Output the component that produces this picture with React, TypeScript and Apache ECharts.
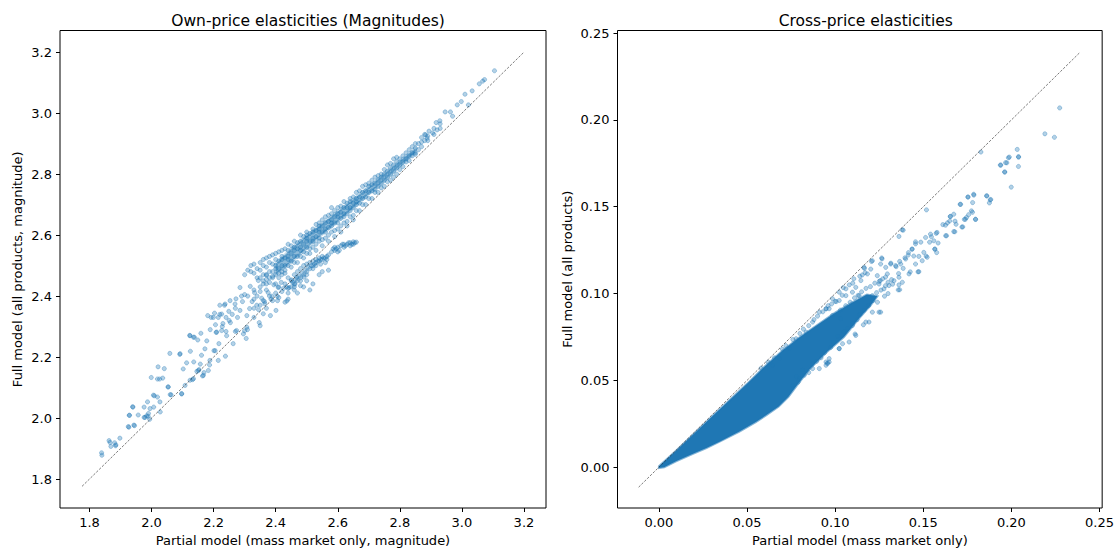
import React, { useEffect, useRef } from "react";
import * as echarts from "echarts";

// ---------- Data ----------
const ownTicks = [1.8, 2.0, 2.2, 2.4, 2.6, 2.8, 3.0, 3.2];
const crossTicks = [0.0, 0.05, 0.1, 0.15, 0.2, 0.25];

const ownDiag: number[][] = [[1.776, 1.776], [3.2, 3.2]];
const crossDiag: number[][] = [[-0.0115, -0.0115], [0.239, 0.239]];

// own-price: scattered points (lower-left part)
const ownSparse: number[][] = [
  [1.839, 1.886], [1.840, 1.878], [1.863, 1.926], [1.869, 1.907], [1.881, 1.919], [1.884, 1.909], [1.898, 1.934],
  [1.866, 1.920], [1.885, 1.912], [1.925, 1.972], [1.943, 1.977], [1.928, 2.009], [1.939, 2.037],
  [1.927, 1.970], [1.929, 2.009], [1.940, 2.036], [1.945, 1.975], [1.957, 2.010], [1.976, 2.036], [1.979, 2.002],
  [1.987, 2.053], [1.989, 2.006], [1.994, 1.996], [1.999, 2.133], [2.007, 2.036], [2.009, 2.073], [2.019, 2.128],
  [2.021, 2.168], [2.026, 2.128], [2.028, 2.020], [2.036, 2.131], [2.041, 2.162], [2.053, 2.102], [2.059, 2.212],
  [2.063, 2.076], [2.091, 2.209], [2.097, 2.079], [2.102, 2.161], [2.113, 2.181], [2.123, 2.271], [2.125, 2.219],
  [2.132, 2.126], [2.136, 2.184], [2.138, 2.265], [2.146, 2.153], [2.153, 2.159], [2.157, 2.177], [2.161, 2.206],
  [2.164, 2.138], [2.169, 2.149], [2.178, 2.253], [2.187, 2.174], [2.189, 2.290], [2.192, 2.330], [2.201, 2.221],
  [2.203, 2.344], [2.206, 2.306], [2.208, 2.281], [2.217, 2.244], [2.220, 2.370], [2.228, 2.300], [2.235, 2.370],
  [2.238, 2.203], [2.240, 2.284], [2.249, 2.350], [2.254, 2.313], [2.263, 2.244], [2.270, 2.284], [2.272, 2.391],
  [2.277, 2.330], [2.285, 2.353], [2.293, 2.382], [2.300, 2.286], [2.305, 2.261], [2.307, 2.336], [2.309, 2.290],
  [2.316, 2.359], [2.324, 2.382], [2.330, 2.330], [2.332, 2.411], [2.339, 2.370], [2.344, 2.451], [2.347, 2.313],
  [2.355, 2.393], [2.360, 2.342], [2.364, 2.382], [2.370, 2.469], [2.376, 2.411], [2.383, 2.336], [2.388, 2.400],
  [2.394, 2.437], [2.401, 2.353], [2.406, 2.385], [2.408, 2.428], [2.418, 2.445], [2.436, 2.384], [2.443, 2.428],
  [2.451, 2.453], [2.462, 2.439], [2.468, 2.462], [2.480, 2.434], [2.491, 2.462],
  [2.092, 2.211], [2.124, 2.270], [2.135, 2.265], [2.149, 2.256], [2.159, 2.278], [2.181, 2.336], [2.199, 2.330],
  [2.215, 2.330], [2.226, 2.341], [2.237, 2.374], [2.253, 2.385], [2.269, 2.374], [2.210, 2.282], [2.226, 2.287],
  [2.242, 2.270], [2.274, 2.287], [2.296, 2.276], [2.307, 2.298], [2.205, 2.221], [2.215, 2.189], [2.172, 2.227],
  [2.188, 2.189], [2.151, 2.156], [2.167, 2.140], [2.183, 2.156], [2.124, 2.124], [2.135, 2.129], [2.108, 2.107],
  [2.097, 2.080], [2.054, 2.102], [2.060, 2.077], [2.006, 2.075], [2.019, 2.069], [2.027, 2.053], [1.995, 2.031],
  [1.990, 2.015], [1.976, 2.002], [1.984, 2.007], [2.350, 2.303], [2.285, 2.428], [2.300, 2.405], [2.318, 2.432],
  [2.35, 2.43], [2.36, 2.44], [2.38, 2.445], [2.39, 2.46], [2.41, 2.46], [2.42, 2.47], [2.43, 2.475], [2.37, 2.42],
  [2.40, 2.44], [2.33, 2.42], [2.31, 2.40], [2.29, 2.40], [2.27, 2.36], [2.26, 2.34], [2.25, 2.32], [2.24, 2.33],
  [2.23, 2.31], [2.22, 2.34], [2.34, 2.40], [2.33, 2.39], [2.35, 2.415], [2.37, 2.44],
];

// own-price: main upper band
const ownUpper: number[][] = [
  [2.30, 2.47], [2.32, 2.48], [2.32, 2.50], [2.34, 2.46], [2.34, 2.49],
  [2.36, 2.47], [2.36, 2.50], [2.36, 2.52], [2.36, 2.45], [2.38, 2.48], [2.38, 2.51], [2.38, 2.46], [2.38, 2.53],
  [2.40, 2.49], [2.40, 2.52], [2.40, 2.47], [2.40, 2.54], [2.40, 2.50], [2.42, 2.50], [2.42, 2.53], [2.42, 2.48],
  [2.42, 2.55], [2.42, 2.52], [2.44, 2.52], [2.44, 2.55], [2.44, 2.50], [2.44, 2.57], [2.44, 2.53], [2.46, 2.53],
  [2.46, 2.56], [2.46, 2.51], [2.46, 2.58], [2.46, 2.55], [2.48, 2.55], [2.48, 2.58], [2.48, 2.53], [2.48, 2.60],
  [2.48, 2.56], [2.50, 2.56], [2.50, 2.59], [2.50, 2.54], [2.50, 2.61], [2.50, 2.58], [2.50, 2.60], [2.52, 2.58],
  [2.52, 2.61], [2.52, 2.56], [2.52, 2.62], [2.52, 2.59], [2.54, 2.59], [2.54, 2.62], [2.54, 2.58], [2.54, 2.64],
  [2.54, 2.61], [2.54, 2.63], [2.56, 2.61], [2.56, 2.64], [2.56, 2.59], [2.56, 2.66], [2.56, 2.62], [2.58, 2.63],
  [2.58, 2.65], [2.58, 2.61], [2.58, 2.67], [2.58, 2.64], [2.58, 2.69], [2.60, 2.64], [2.60, 2.67], [2.60, 2.62],
  [2.60, 2.69], [2.60, 2.66], [2.62, 2.66], [2.62, 2.69], [2.62, 2.64], [2.62, 2.71], [2.62, 2.67], [2.64, 2.68],
  [2.64, 2.71], [2.64, 2.66], [2.64, 2.72], [2.64, 2.69], [2.66, 2.70], [2.66, 2.72], [2.66, 2.68], [2.66, 2.74],
  [2.66, 2.71], [2.68, 2.72], [2.68, 2.74], [2.68, 2.70], [2.68, 2.76], [2.70, 2.74], [2.70, 2.76], [2.70, 2.72],
  [2.70, 2.77], [2.72, 2.75], [2.72, 2.77], [2.72, 2.74], [2.72, 2.79], [2.74, 2.77], [2.74, 2.79], [2.74, 2.755],
  [2.74, 2.80], [2.76, 2.79], [2.76, 2.81], [2.76, 2.775], [2.76, 2.83], [2.78, 2.81], [2.78, 2.83], [2.78, 2.79],
  [2.78, 2.85], [2.80, 2.83], [2.80, 2.85], [2.80, 2.815], [2.82, 2.85], [2.82, 2.87], [2.82, 2.84], [2.84, 2.87],
  [2.84, 2.89], [2.84, 2.86], [2.86, 2.88], [2.86, 2.90], [2.85, 2.87], [2.88, 2.91], [2.88, 2.93], [2.883, 2.929],
  [2.888, 2.918], [2.894, 2.941], [2.906, 2.935], [2.917, 2.969], [2.92, 2.945], [2.929, 2.975], [2.946, 3.004],
  [2.963, 3.004], [2.97, 2.99], [2.985, 3.027], [2.998, 3.038], [3.010, 3.062], [3.021, 3.027], [3.033, 3.073],
  [3.056, 3.096], [3.067, 3.105], [3.073, 3.110], [3.105, 3.139],
];

// own-price: further points of the upper band (between the ones above)
const ownUpperFill: number[][] = [
  [2.31, 2.485], [2.33, 2.475], [2.33, 2.505], [2.35, 2.46], [2.35, 2.485], [2.35, 2.51],
  [2.37, 2.47], [2.37, 2.495], [2.37, 2.525], [2.37, 2.455], [2.39, 2.48], [2.39, 2.505], [2.39, 2.535], [2.39, 2.465],
  [2.41, 2.49], [2.41, 2.515], [2.41, 2.545], [2.41, 2.475], [2.43, 2.50], [2.43, 2.525], [2.43, 2.555], [2.43, 2.485],
  [2.45, 2.515], [2.45, 2.54], [2.45, 2.565], [2.45, 2.495], [2.47, 2.53], [2.47, 2.555], [2.47, 2.575], [2.47, 2.51],
  [2.49, 2.545], [2.49, 2.57], [2.49, 2.595], [2.49, 2.525], [2.51, 2.555], [2.51, 2.58], [2.51, 2.605], [2.51, 2.54],
  [2.53, 2.57], [2.53, 2.595], [2.53, 2.615], [2.53, 2.55], [2.53, 2.635], [2.55, 2.585], [2.55, 2.61], [2.55, 2.63],
  [2.55, 2.565], [2.55, 2.65], [2.57, 2.60], [2.57, 2.625], [2.57, 2.645], [2.57, 2.58], [2.57, 2.665], [2.59, 2.615],
  [2.59, 2.64], [2.59, 2.66], [2.59, 2.595], [2.59, 2.68], [2.61, 2.63], [2.61, 2.655], [2.61, 2.675], [2.61, 2.61],
  [2.61, 2.695], [2.63, 2.645], [2.63, 2.67], [2.63, 2.69], [2.63, 2.63], [2.63, 2.705], [2.65, 2.665], [2.65, 2.69],
  [2.65, 2.705], [2.65, 2.65], [2.65, 2.725], [2.67, 2.68], [2.67, 2.705], [2.67, 2.725], [2.67, 2.745], [2.69, 2.70],
  [2.69, 2.725], [2.69, 2.745], [2.69, 2.765], [2.71, 2.72], [2.71, 2.745], [2.71, 2.765], [2.71, 2.78], [2.73, 2.74],
  [2.73, 2.76], [2.73, 2.78], [2.73, 2.795], [2.75, 2.76], [2.75, 2.78], [2.75, 2.80], [2.75, 2.815], [2.77, 2.78],
  [2.77, 2.80], [2.77, 2.82], [2.77, 2.835], [2.79, 2.80], [2.79, 2.82], [2.79, 2.84], [2.79, 2.855], [2.81, 2.825],
  [2.81, 2.84], [2.81, 2.86], [2.83, 2.845], [2.83, 2.86], [2.83, 2.88], [2.85, 2.865], [2.85, 2.885], [2.85, 2.90],
  [2.87, 2.89], [2.87, 2.905], [2.87, 2.92], [2.89, 2.91], [2.89, 2.925], [2.91, 2.93], [2.91, 2.95], [2.93, 2.95],
  [2.93, 2.965],
];

// own-price: envelope of the crowded part of the upper band
const ownCore: number[][] = [
  [2.40, 2.505], [2.45, 2.555], [2.50, 2.597], [2.55, 2.637], [2.60, 2.677], [2.65, 2.717], [2.70, 2.757],
  [2.75, 2.80], [2.80, 2.843], [2.85, 2.883], [2.85, 2.872], [2.80, 2.828], [2.75, 2.778], [2.70, 2.735],
  [2.65, 2.69], [2.60, 2.645], [2.55, 2.603], [2.50, 2.557], [2.45, 2.512], [2.40, 2.472],
];

// own-price: lower arm below the diagonal
const ownLower: number[][] = [
  [2.33, 2.36], [2.35, 2.37], [2.36, 2.385], [2.37, 2.36], [2.38, 2.40], [2.39, 2.385], [2.40, 2.41], [2.41, 2.395],
  [2.41, 2.43], [2.42, 2.415], [2.43, 2.44], [2.44, 2.425], [2.44, 2.46], [2.45, 2.43], [2.45, 2.45], [2.46, 2.47],
  [2.46, 2.44], [2.47, 2.45], [2.47, 2.48], [2.48, 2.46], [2.48, 2.49], [2.49, 2.47], [2.49, 2.50], [2.50, 2.48],
  [2.50, 2.505], [2.51, 2.49], [2.51, 2.51], [2.52, 2.50], [2.52, 2.515], [2.53, 2.51], [2.53, 2.52], [2.54, 2.515],
  [2.54, 2.525], [2.55, 2.52], [2.55, 2.53], [2.56, 2.525], [2.565, 2.53], [2.57, 2.535],
  [2.58, 2.545], [2.59, 2.55], [2.59, 2.56], [2.60, 2.545], [2.60, 2.56], [2.61, 2.565], [2.615, 2.57], [2.62, 2.57],
  [2.625, 2.565], [2.63, 2.57], [2.635, 2.575], [2.64, 2.575], [2.645, 2.57], [2.65, 2.578], [2.655, 2.575], [2.66, 2.577],
  [2.43, 2.38], [2.44, 2.39], [2.46, 2.42], [2.49, 2.43], [2.52, 2.44], [2.55, 2.48], [2.57, 2.485], [2.51, 2.42],
  [2.47, 2.41], [2.54, 2.47], [2.50, 2.45],
  [2.345, 2.355], [2.365, 2.375], [2.385, 2.39], [2.405, 2.40], [2.425, 2.425], [2.435, 2.43], [2.455, 2.445],
  [2.465, 2.455], [2.475, 2.465], [2.485, 2.475], [2.495, 2.485], [2.505, 2.495], [2.515, 2.50], [2.525, 2.505],
  [2.535, 2.515], [2.545, 2.52], [2.555, 2.525], [2.565, 2.52], [2.52, 2.49], [2.53, 2.50], [2.50, 2.47],
  [2.48, 2.45], [2.46, 2.43], [2.44, 2.41], [2.545, 2.505], [2.56, 2.51],
  [2.595, 2.555], [2.605, 2.55], [2.62, 2.56], [2.64, 2.565], [2.65, 2.57], [2.585, 2.555],
];

// cross-price: envelope of the saturated (solid) region
const crossDense: number[][] = [
  [0.0, 0.0005], [0.01, 0.0098], [0.02, 0.0194], [0.03, 0.029], [0.04, 0.0385], [0.05, 0.048], [0.06, 0.058],
  [0.07, 0.067], [0.08, 0.075], [0.09, 0.082], [0.10, 0.089], [0.11, 0.095], [0.118, 0.0995], [0.124, 0.0985],
  [0.12, 0.093], [0.113, 0.085], [0.105, 0.075], [0.095, 0.066], [0.086, 0.057], [0.079, 0.048], [0.0735, 0.0405],
  [0.068, 0.035], [0.061, 0.030], [0.055, 0.026], [0.0457, 0.0205], [0.035, 0.015], [0.027, 0.011], [0.02, 0.008],
  [0.01, 0.0035], [0.003, 0.0], [0.0, -0.0005],
];

// cross-price: individually visible points
const crossSparse: number[][] = [
  [0.2274, 0.2069], [0.2190, 0.1920], [0.2244, 0.1900], [0.2033, 0.1830], [0.2041, 0.1786], [0.1983, 0.1782],
  [0.1967, 0.1754], [0.1937, 0.1740], [0.2040, 0.1732], [0.1961, 0.1700], [0.1999, 0.1613], [0.1827, 0.1815],
  [0.1787, 0.1567], [0.1753, 0.1556], [0.1859, 0.1563], [0.1883, 0.1542], [0.1875, 0.1522], [0.1709, 0.1514],
  [0.1518, 0.1482], [0.1779, 0.1468], [0.1757, 0.1454], [0.1745, 0.1438], [0.1733, 0.1427], [0.1797, 0.1427],
  [0.1653, 0.1444], [0.1680, 0.1417], [0.1637, 0.1407], [0.1719, 0.1383], [0.1673, 0.1357], [0.1611, 0.1397],
  [0.1380, 0.1367], [0.1573, 0.1347], [0.1627, 0.1333], [0.1546, 0.1327], [0.1536, 0.1296], [0.1486, 0.1296],
  [0.1456, 0.1286], [0.1566, 0.1256], [0.1576, 0.1236], [0.1436, 0.1256], [0.1416, 0.1236], [0.1446, 0.1216],
  [0.1396, 0.1206], [0.1516, 0.1216], [0.1366, 0.1185], [0.1266, 0.1200], [0.1206, 0.1185], [0.1316, 0.1175],
  [0.1346, 0.1155], [0.1386, 0.1145], [0.1470, 0.1125], [0.1426, 0.1125], [0.1360, 0.1115], [0.1166, 0.1145],
  [0.1106, 0.1085], [0.1146, 0.1075], [0.1256, 0.1075], [0.1286, 0.1095], [0.1366, 0.1022], [0.1326, 0.1054],
  [0.1046, 0.1034], [0.1006, 0.0954], [0.0966, 0.0913],
  [0.1386, 0.1365], [0.1362, 0.1329], [0.1456, 0.1298], [0.1513, 0.1323], [0.1541, 0.1342], [0.1578, 0.1352],
  [0.1560, 0.1304], [0.1584, 0.1291], [0.1565, 0.1256], [0.1437, 0.1256], [0.1415, 0.1222], [0.1475, 0.1214],
  [0.1503, 0.1237], [0.1522, 0.1209], [0.1494, 0.1189], [0.1456, 0.1170], [0.1475, 0.1126], [0.1400, 0.1199],
  [0.1372, 0.1170], [0.1343, 0.1161], [0.1315, 0.1170], [0.1287, 0.1151], [0.1264, 0.1205], [0.1258, 0.1170],
  [0.1211, 0.1189], [0.1202, 0.1141], [0.1164, 0.1151], [0.1154, 0.1107], [0.1183, 0.1113], [0.1239, 0.1103],
  [0.1296, 0.1113], [0.1362, 0.1094], [0.1381, 0.1065], [0.1362, 0.1050], [0.1334, 0.1074], [0.1419, 0.1113],
  [0.1358, 0.1021], [0.1305, 0.1046], [0.1277, 0.1027], [0.1249, 0.1055], [0.1117, 0.1036], [0.1098, 0.1008],
  [0.1136, 0.0988], [0.1061, 0.0988], [0.1023, 0.0960], [0.1211, 0.0988], [0.1258, 0.0893], [0.1192, 0.0836],
  [0.1160, 0.0820], [0.1113, 0.0767], [0.0985, 0.0874], [0.0948, 0.0912], [0.1032, 0.0855], [0.1079, 0.0721],
  [0.1023, 0.0683], [0.0966, 0.0606], [0.0948, 0.0587],
  [0.1940, 0.1740], [0.1974, 0.1753], [0.1988, 0.1786], [0.2040, 0.1788], [0.1963, 0.1700], [0.1786, 0.1572],
  [0.1754, 0.1556], [0.1861, 0.1562], [0.1880, 0.1539], [0.1780, 0.1524], [0.1712, 0.1514], [0.1773, 0.1476],
  [0.1673, 0.1457], [0.1654, 0.1444], [0.1739, 0.1428], [0.1796, 0.1428], [0.1650, 0.1418], [0.1686, 0.1399],
  [0.1626, 0.1394], [0.1724, 0.1384], [0.1679, 0.1356], [0.1632, 0.1333],
  [0.0684, 0.0625], [0.0778, 0.0740], [0.0872, 0.0836], [0.0948, 0.0912], [0.0985, 0.0970], [0.1061, 0.1027],
  [0.1023, 0.1008], [0.0910, 0.0893], [0.0835, 0.0778], [0.0740, 0.0683], [0.0646, 0.0587], [0.0797, 0.0511],
  [0.0872, 0.0568], [0.0948, 0.0606], [0.1023, 0.0683], [0.0966, 0.0625], [0.0910, 0.0568], [0.1117, 0.0759],
  [0.1211, 0.0893], [0.1249, 0.0893], [0.1042, 0.0711], [0.1098, 0.0816], [0.1174, 0.0836], [0.0759, 0.0472],
  [0.0955, 0.0597], [0.0958, 0.0600],
];

// cross-price: cloud around the end of the solid region and along the diagonal
const crossCloud: number[][] = [
  [0.1030, 0.0905], [0.1060, 0.0930], [0.1085, 0.0950], [0.1110, 0.0975], [0.1130, 0.0990], [0.1150, 0.1010],
  [0.1175, 0.1030], [0.1200, 0.1040], [0.1225, 0.1060], [0.1250, 0.1070], [0.1270, 0.1085], [0.1235, 0.1005],
  [0.1260, 0.1020], [0.1285, 0.1045], [0.1300, 0.1065], [0.1320, 0.1080], [0.1280, 0.0985], [0.1300, 0.1000],
  [0.1215, 0.0960], [0.1240, 0.0950], [0.1190, 0.0930], [0.1165, 0.0905], [0.1140, 0.0880], [0.1125, 0.0850],
  [0.1100, 0.0830], [0.1070, 0.0800], [0.1050, 0.0780], [0.1015, 0.0755], [0.0990, 0.0720], [0.0975, 0.0690],
  [0.0940, 0.0660], [0.0920, 0.0630], [0.0895, 0.0610], [0.0870, 0.0595], [0.0850, 0.0545], [0.0825, 0.0530],
  [0.0815, 0.0560], [0.0790, 0.0490], [0.0780, 0.0520],
  [0.0580, 0.0570], [0.0620, 0.0605], [0.0655, 0.0630], [0.0700, 0.0680], [0.0720, 0.0700], [0.0760, 0.0735],
  [0.0800, 0.0770], [0.0820, 0.0795], [0.0850, 0.0815], [0.0880, 0.0850], [0.0900, 0.0870], [0.0930, 0.0895],
  [0.0960, 0.0930], [0.1000, 0.0955], [0.0980, 0.0940], [0.1040, 0.0990], [0.1080, 0.1050], [0.1100, 0.1060],
  [0.1140, 0.1100], [0.1170, 0.1120],
];

// ---------- Styling ----------
const FONT = "DejaVu Sans";
const C0 = "#1f77b4";
const PT_FILL = "rgba(31,119,180,0.42)";
const PT_EDGE = "rgba(31,119,180,0.45)";

function axisBase(ticks: number[], min: number, max: number, digits: number, gridIndex: number) {
  return {
    type: "value" as const,
    gridIndex,
    min,
    max,
    axisLine: { show: false, onZero: false },
    axisTick: { show: true, inside: false, length: 4, customValues: ticks, lineStyle: { color: "#000", width: 1 } },
    axisLabel: {
      customValues: ticks,
      formatter: (v: number) => v.toFixed(digits),
      color: "#000",
      fontSize: 13,
      fontFamily: FONT,
      margin: 8,
    },
    splitLine: { show: false },
    nameLocation: "middle" as const,
    nameTextStyle: { color: "#000", fontSize: 13, fontFamily: FONT },
  };
}

function polygonSeries(points: number[][], axisIndex: number, fill: string, stroke: string, lineWidth: number) {
  return {
    type: "custom",
    xAxisIndex: axisIndex,
    yAxisIndex: axisIndex,
    data: points,
    silent: true,
    z: 1,
    renderItem: (params: any, api: any) => {
      if (params.dataIndex !== 0) return null;
      return {
        type: "polygon",
        shape: { points: points.map((p) => api.coord(p)) },
        style: { fill, stroke, lineWidth },
      };
    },
  };
}

export default function App() {
  const ref = useRef<HTMLDivElement>(null);

  useEffect(() => {
    if (!ref.current) return;
    const chart = echarts.init(ref.current, undefined, { renderer: "svg" });
    const scatterStyle = {
      symbol: "circle",
      symbolSize: 4.2,
      itemStyle: { color: PT_FILL, borderColor: PT_EDGE, borderWidth: 0.9 },
      silent: true,
      z: 2,
    };
    const diagStyle = {
      type: "line" as const,
      symbol: "none",
      silent: true,
      z: 4,
      lineStyle: { color: "#222", width: 0.6, type: [2.5, 1.5] as any },
    };
    const option: any = {
      animation: false,
      backgroundColor: "#fff",
      title: [
        {
          text: "Own-price elasticities (Magnitudes)",
          left: 303,
          top: 8,
          textAlign: "center",
          textStyle: { fontSize: 15.5, fontWeight: "normal", color: "#000", fontFamily: FONT },
        },
        {
          text: "Cross-price elasticities",
          left: 860.75,
          top: 8,
          textAlign: "center",
          textStyle: { fontSize: 15.5, fontWeight: "normal", color: "#000", fontFamily: FONT },
        },
      ],
      grid: [
        { left: 60, top: 30.5, width: 486, height: 479.5, show: true, borderColor: "#000", borderWidth: 1, containLabel: false },
        { left: 617.5, top: 30.5, width: 486.5, height: 479.5, show: true, borderColor: "#000", borderWidth: 1, containLabel: false },
      ],
      xAxis: [
        { ...axisBase(ownTicks, 1.705, 3.271, 1, 0), name: "Partial model (mass market only, magnitude)", nameGap: 26 },
        { ...axisBase(crossTicks, -0.0235, 0.2515, 2, 1), name: "Partial model (mass market only)", nameGap: 26 },
      ],
      yAxis: [
        { ...axisBase(ownTicks, 1.705, 3.271, 1, 0), name: "Full model (all products, magnitude)", nameGap: 36 },
        { ...axisBase(crossTicks, -0.0235, 0.2515, 2, 1), name: "Full model (all products)", nameGap: 44 },
      ],
      series: [
        polygonSeries(ownCore, 0, "rgba(31,119,180,0.5)", "rgba(31,119,180,0.25)", 3),
        {
          type: "scatter",
          xAxisIndex: 0,
          yAxisIndex: 0,
          data: [...ownSparse, ...ownUpper, ...ownUpperFill, ...ownLower],
          ...scatterStyle,
        },
        { ...diagStyle, xAxisIndex: 0, yAxisIndex: 0, data: ownDiag },
        polygonSeries(crossDense, 1, C0, "rgba(31,119,180,0.55)", 2),
        { type: "scatter", xAxisIndex: 1, yAxisIndex: 1, data: [...crossSparse, ...crossCloud], ...scatterStyle },
        { ...diagStyle, xAxisIndex: 1, yAxisIndex: 1, data: crossDiag },
      ],
    };
    chart.setOption(option);
    return () => chart.dispose();
  }, []);

  return (
    <div
      ref={ref}
      style={{ position: "fixed", left: 0, top: 0, width: 1117, height: 552, background: "#fff" }}
    />
  );
}
